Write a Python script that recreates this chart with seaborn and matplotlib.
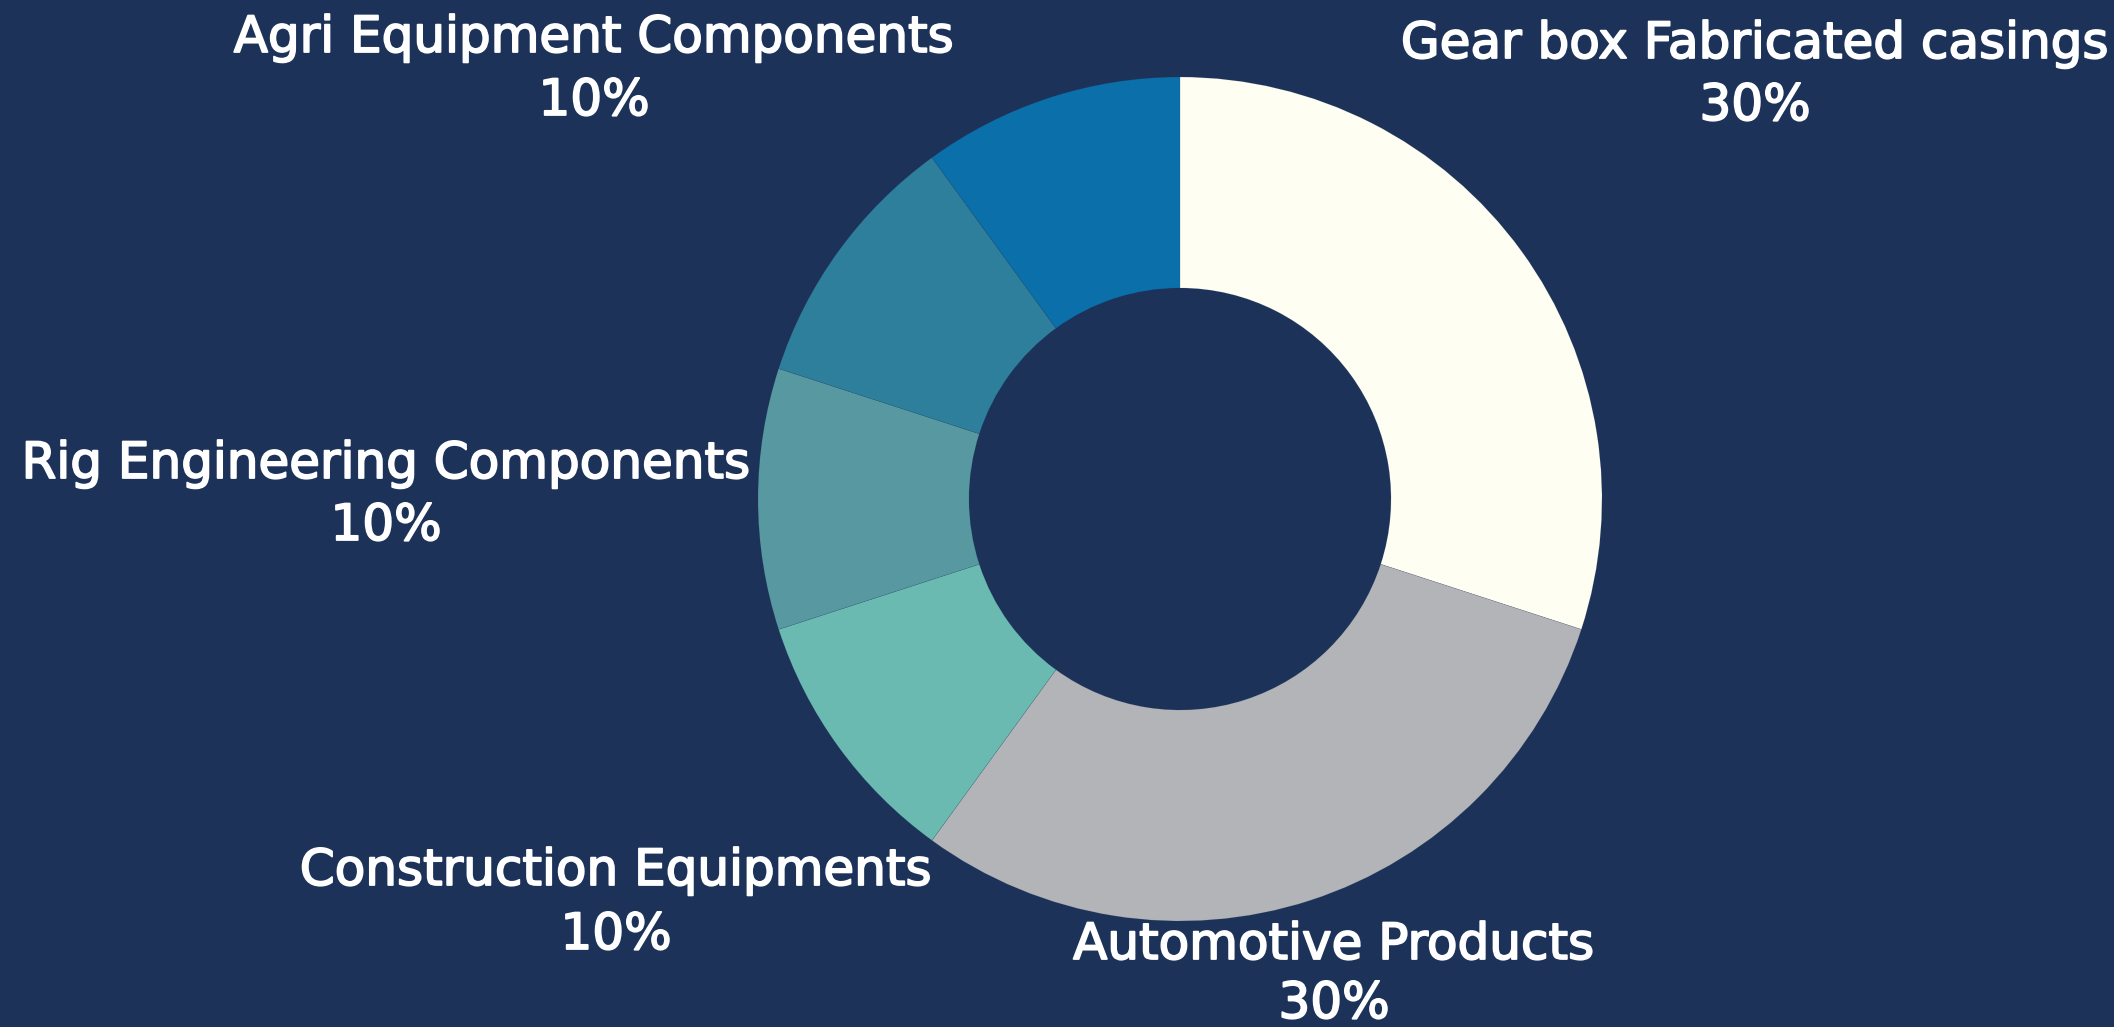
import matplotlib
matplotlib.use("Agg")
import matplotlib.pyplot as plt
import matplotlib.patheffects as pe
import seaborn as sns

# ---- data ----
categories = ["Gear box Fabricated casings", "Automotive Products", "Construction Equipments",
              "Rig Engineering Components", "", "Agri Equipment Components"]
shares = [30, 30, 10, 10, 10, 10]
colors = ["#FEFEF2", "#B3B4B8", "#6BBAB1", "#5899A1", "#2E7F9C", "#0B6FA9"]
# label centre points in pixels (x, name-line y, percent-line y), from top-left
label_pos = [(1755, 40, 102), (1334, 941, 1000), (616, 867, 931), (386, 460, 522), None, (594, 34, 97)]

BG = "#1C3259"
sns.set_theme(style="white")
plt.rcParams['font.family'] = ['DejaVu Sans']

W, H, DPI = 2114, 1027, 100
fig = plt.figure(figsize=(W / DPI, H / DPI), dpi=DPI, facecolor=BG)
ax = fig.add_axes([0, 0, 1, 1])
ax.set_facecolor(BG)

cx, cy, R = 1180, 499, 422
ax.pie(shares, colors=colors, startangle=90, counterclock=False, radius=1,
       wedgeprops=dict(width=0.5, linewidth=0.4, edgecolor=BG + "30"), center=(0, 0))
ax.set_xlim(-cx / R, (W - cx) / R)
ax.set_ylim(-(H - cy) / R, cy / R)
ax.set_aspect("equal")
ax.axis("off")

stroke = [pe.withStroke(linewidth=1.3, foreground="white")]
for name, val, pos in zip(categories, shares, label_pos):
    if not name or pos is None:
        continue
    x, y1, y2 = pos
    kw = dict(ha="center", va="baseline", color="white", fontsize=36, path_effects=stroke)
    fig.text(x / W, 1 - (y1 + 18) / H, name, **kw)
    fig.text(x / W, 1 - (y2 + 18) / H, f"{val}%", **kw)

fig.savefig("out.png", dpi=DPI, facecolor=BG)
